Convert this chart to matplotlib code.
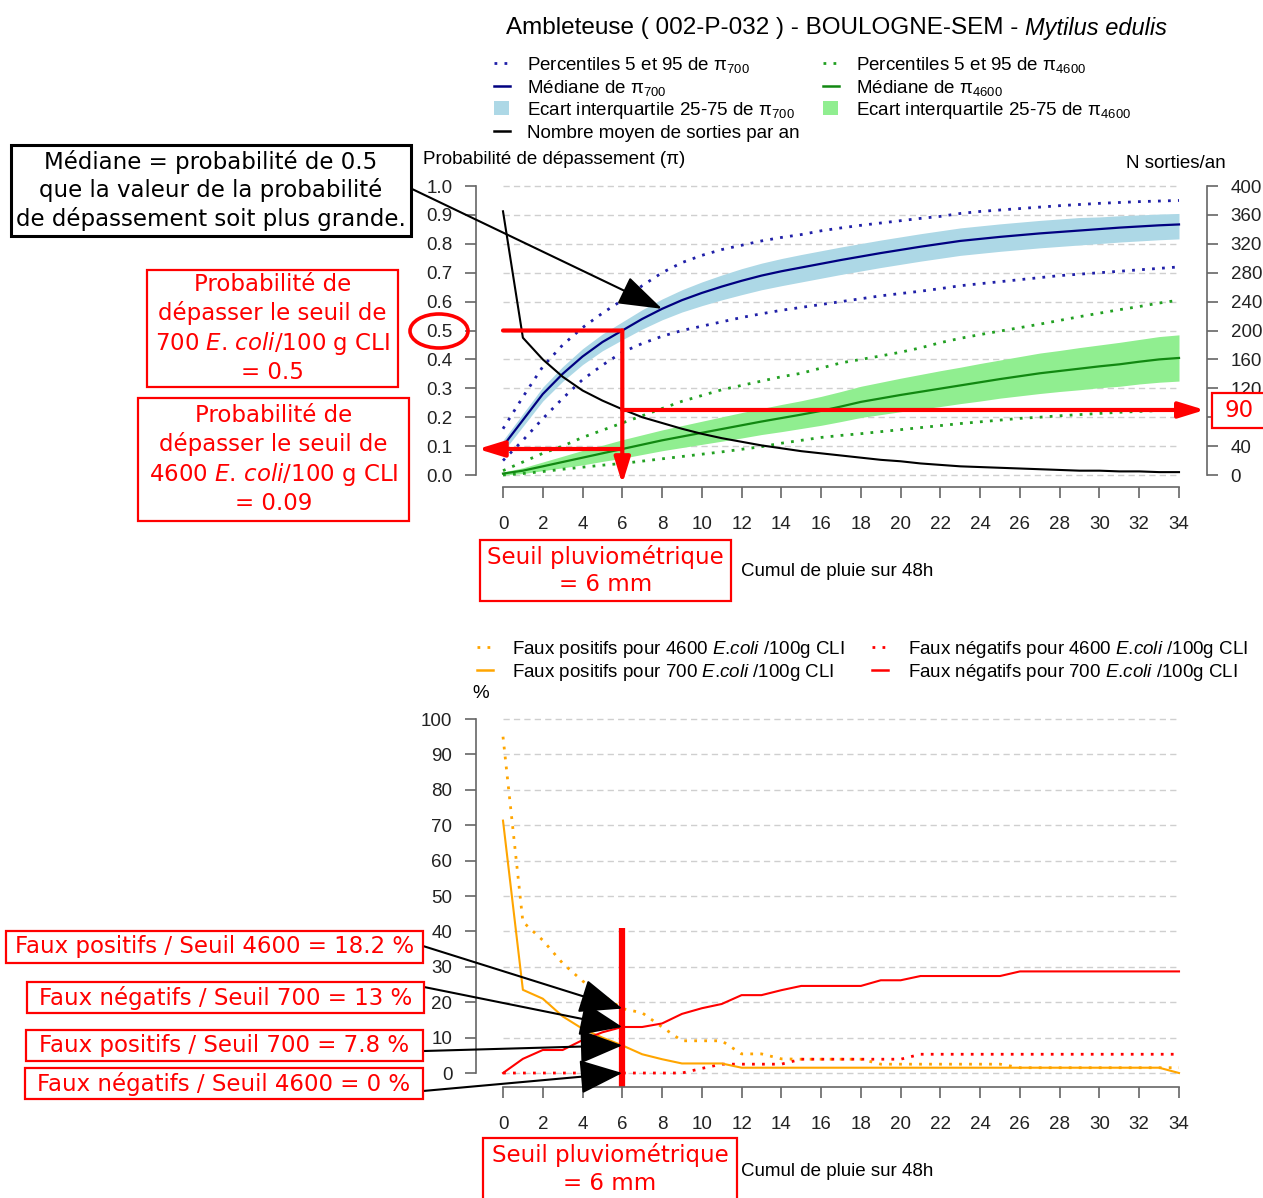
import matplotlib
matplotlib.use("Agg")
import matplotlib.pyplot as plt
from matplotlib.patches import Rectangle, Ellipse
from matplotlib.lines import Line2D
import numpy as np

plt.rcParams['font.family'] = ['Liberation Sans', 'DejaVu Sans']
plt.rcParams['mathtext.fontset'] = 'custom'
plt.rcParams['mathtext.rm'] = 'Liberation Sans'
plt.rcParams['mathtext.it'] = 'Liberation Sans:italic'

W, H = 1263, 1198

# cumul de pluie sur 48h (mm)
pluie = list(range(35))

# probabilite de depassement, seuil 700
p05_700 = [0.05, 0.12, 0.195, 0.265, 0.33, 0.38, 0.425, 0.455, 0.48, 0.50, 0.515, 0.53, 0.545, 0.558,
           0.57, 0.58, 0.59, 0.60, 0.61, 0.62, 0.628, 0.636, 0.645, 0.655, 0.662, 0.669, 0.676, 0.683,
           0.69, 0.695, 0.70, 0.705, 0.71, 0.715, 0.72]
q25_700 = [0.08, 0.168, 0.256, 0.324, 0.382, 0.43, 0.468, 0.505, 0.537, 0.564, 0.586, 0.606, 0.624, 0.641,
           0.655, 0.668, 0.681, 0.694, 0.706, 0.718, 0.729, 0.74, 0.75, 0.76, 0.767, 0.774, 0.78, 0.786,
           0.791, 0.796, 0.801, 0.806, 0.81, 0.814, 0.817]
med_700 = [0.10, 0.19, 0.28, 0.35, 0.41, 0.46, 0.50, 0.54, 0.575, 0.605, 0.63, 0.652, 0.672, 0.69,
           0.705, 0.718, 0.731, 0.744, 0.756, 0.768, 0.779, 0.79, 0.80, 0.81, 0.817, 0.824, 0.83, 0.836,
           0.841, 0.846, 0.851, 0.856, 0.86, 0.864, 0.867]
q75_700 = [0.12, 0.212, 0.304, 0.375, 0.437, 0.488, 0.53, 0.572, 0.609, 0.641, 0.668, 0.692, 0.714, 0.733,
           0.749, 0.763, 0.776, 0.789, 0.801, 0.813, 0.824, 0.835, 0.845, 0.855, 0.862, 0.869, 0.875, 0.881,
           0.886, 0.891, 0.893, 0.897, 0.90, 0.903, 0.905]
p95_700 = [0.16, 0.27, 0.375, 0.45, 0.51, 0.56, 0.605, 0.655, 0.70, 0.735, 0.76, 0.78, 0.795, 0.81,
           0.822, 0.832, 0.845, 0.855, 0.864, 0.872, 0.88, 0.888, 0.895, 0.905, 0.912, 0.917, 0.922, 0.927,
           0.932, 0.936, 0.94, 0.943, 0.946, 0.948, 0.95]

# probabilite de depassement, seuil 4600
p05_4600 = [0.0, 0.005, 0.012, 0.02, 0.027, 0.034, 0.04, 0.048, 0.056, 0.064, 0.072, 0.08, 0.089, 0.098,
            0.11, 0.12, 0.13, 0.137, 0.143, 0.15, 0.157, 0.164, 0.171, 0.178, 0.184, 0.19, 0.196, 0.2,
            0.205, 0.209, 0.213, 0.217, 0.22, 0.223, 0.225]
q25_4600 = [0.0, 0.005, 0.015, 0.025, 0.035, 0.047, 0.058, 0.071, 0.084, 0.095, 0.106, 0.117, 0.128, 0.14,
            0.15, 0.161, 0.172, 0.185, 0.199, 0.209, 0.219, 0.228, 0.237, 0.247, 0.256, 0.266, 0.274, 0.282,
            0.289, 0.295, 0.302, 0.307, 0.315, 0.321, 0.325]
med_4600 = [0.005, 0.015, 0.03, 0.045, 0.06, 0.075, 0.09, 0.105, 0.12, 0.133, 0.146, 0.159, 0.172, 0.185,
            0.197, 0.209, 0.222, 0.237, 0.253, 0.265, 0.277, 0.288, 0.299, 0.31, 0.321, 0.332, 0.342, 0.352,
            0.36, 0.368, 0.376, 0.383, 0.392, 0.40, 0.405]
q75_4600 = [0.01, 0.025, 0.045, 0.065, 0.085, 0.103, 0.122, 0.139, 0.156, 0.171, 0.186, 0.201, 0.216, 0.23,
            0.244, 0.257, 0.272, 0.289, 0.307, 0.321, 0.335, 0.348, 0.361, 0.373, 0.386, 0.398, 0.41, 0.422,
            0.431, 0.441, 0.45, 0.459, 0.469, 0.479, 0.485]
p95_4600 = [0.015, 0.045, 0.075, 0.10, 0.13, 0.155, 0.18, 0.205, 0.23, 0.255, 0.275, 0.295, 0.31, 0.325,
            0.34, 0.352, 0.37, 0.388, 0.40, 0.412, 0.425, 0.44, 0.458, 0.473, 0.486, 0.498, 0.51, 0.522,
            0.535, 0.548, 0.56, 0.572, 0.583, 0.595, 0.605]

# nombre moyen de sorties par an
sorties = [365, 190, 160, 136, 117, 103, 91, 80, 72, 64, 57, 51, 46, 41, 37, 33, 30, 27, 24, 21, 19, 16,
           14, 12, 11, 10, 9, 8, 7, 6, 6, 5, 5, 4, 4]

# faux positifs / faux negatifs (%)
fp_4600 = [95, 42.7, 37.5, 31, 26, 22, 18.2, 17, 13, 9.1, 9.1, 9.1, 5.4, 5.4, 4, 3.9, 3.9, 3.9, 3.9,
           2.5, 2.5, 2.5, 2.5, 2.5, 2.5, 2.5, 1.5, 1.5, 1.5, 1.5, 1.5, 1.5, 1.5, 1.5, 1.5]
fp_700 = [71.3, 23.5, 21, 16, 12.5, 10, 7.8, 5.3, 3.9, 2.7, 2.7, 2.7, 1.5, 1.5, 1.5, 1.5, 1.5, 1.5, 1.5,
          1.5, 1.5, 1.5, 1.5, 1.5, 1.5, 1.5, 1.5, 1.5, 1.5, 1.5, 1.5, 1.5, 1.5, 1.5, 0]
fn_4600 = [0, 0, 0, 0, 0, 0, 0, 0, 0, 0, 1.3, 2.5, 2.5, 2.5, 2.5, 3.9, 3.9, 3.9, 3.9, 3.9, 3.9, 5.3, 5.3,
           5.3, 5.3, 5.3, 5.3, 5.3, 5.3, 5.3, 5.3, 5.3, 5.3, 5.3, 5.3]
fn_700 = [0, 4, 6.5, 6.5, 9.3, 11.5, 13, 13, 14, 16.7, 18.3, 19.5, 22, 22, 23.4, 24.6, 24.6, 24.6, 24.6,
          26.2, 26.2, 27.4, 27.4, 27.4, 27.4, 27.4, 28.7, 28.7, 28.7, 28.7, 28.7, 28.7, 28.7, 28.7, 28.7]

seuil = 6
x_ticks = list(range(0, 35, 2))


def fx(X):
    return X / W


def fy(Y):
    return 1 - Y / H


fig = plt.figure(figsize=(W / 100, H / 100), dpi=100)

gris = '#666666'
dots = (0, (1, 2.6))
grid_style = (0, (4.5, 3))


def style_axe(ax, ybounds):
    for s in ['top', 'right']:
        ax.spines[s].set_visible(False)
    ax.spines['left'].set_bounds(*ybounds)
    ax.spines['bottom'].set_bounds(0, 34)
    for s in ['left', 'bottom']:
        ax.spines[s].set_color(gris)
        ax.spines[s].set_linewidth(1.2)
    ax.tick_params(length=8, width=1.2, color=gris, pad=9, labelsize=13.5, labelcolor='#222222')
    ax.tick_params(axis='x', pad=13)
    ax.set_xticks(x_ticks)
    ax.set_xlim(-1.358, 35.408)


# ---------- panneau du haut ----------
ax1 = fig.add_axes([fx(476), fy(487), (1207 - 476) / W, (487 - 180) / H])
ax1.set_ylim(-0.0415, 1.0208)
style_axe(ax1, (0, 1))
yt = np.round(np.arange(0, 1.01, 0.1), 1)
ax1.set_yticks(yt)
ax1.set_yticklabels(['%.1f' % v for v in yt])
ax1.hlines(yt, 0, 34, colors='#cfcfcf', linestyles=grid_style, lw=1, zorder=0)

ax1.fill_between(pluie, q25_700, q75_700, color='lightblue', lw=0)
ax1.fill_between(pluie, q25_4600, q75_4600, color='lightgreen', lw=0)
ax1.plot(pluie, p05_700, color='#2020a8', lw=2, ls=dots)
ax1.plot(pluie, p95_700, color='#2020a8', lw=2, ls=dots)
ax1.plot(pluie, med_700, color='navy', lw=1.6)
ax1.plot(pluie, p05_4600, color='#22a022', lw=2, ls=dots)
ax1.plot(pluie, p95_4600, color='#22a022', lw=2, ls=dots)
ax1.plot(pluie, med_4600, color='#118811', lw=1.6)

ax2 = ax1.twinx()
ax2.set_ylim(-0.0415 * 400, 1.0208 * 400)
for s in ['top', 'left', 'bottom']:
    ax2.spines[s].set_visible(False)
ax2.spines['right'].set_bounds(0, 400)
ax2.spines['right'].set_color(gris)
ax2.spines['right'].set_linewidth(1.2)
ax2.set_yticks(range(0, 401, 40))
ax2.tick_params(length=8, width=1.2, color=gris, pad=9, labelsize=13.5, labelcolor='#222222')
ax2.plot(pluie, sorties, color='black', lw=1.5)

# lecture au seuil de 6 mm
i6 = pluie.index(seuil)
rouge = dict(color='red', lw=3, shrinkA=0, shrinkB=0)
tete = '-|>,head_length=1.3,head_width=0.4'
ax2.annotate('', xy=(seuil, med_700[i6]), xycoords=ax1.transData,
             xytext=(0, med_700[i6]), textcoords=ax1.transData,
             arrowprops=dict(arrowstyle='-', **rouge))
ax2.annotate('', xy=(seuil, -0.031), xycoords=ax1.transData,
             xytext=(seuil, med_700[i6]), textcoords=ax1.transData, annotation_clip=False,
             arrowprops=dict(arrowstyle=tete, mutation_scale=12, **rouge))
ax2.annotate('', xy=(-1.26, med_4600[i6]), xycoords=ax1.transData,
             xytext=(seuil, med_4600[i6]), textcoords=ax1.transData, annotation_clip=False,
             arrowprops=dict(arrowstyle=tete, mutation_scale=12, **rouge))
ax2.annotate('', xy=(35.3, 90), xytext=(seuil, 90), annotation_clip=False,
             arrowprops=dict(arrowstyle=tete, mutation_scale=12, **rouge))

# fleche "Mediane"
ax2.annotate('', xy=(8, med_700[8]), xycoords=ax1.transData,
             xytext=(fx(410), fy(188)), textcoords='figure fraction', annotation_clip=False,
             arrowprops=dict(arrowstyle='-|>,head_length=1.25,head_width=0.42', mutation_scale=22,
                             color='black', lw=1.5, shrinkA=0, shrinkB=0))

# ---------- panneau du bas ----------
ax3 = fig.add_axes([fx(476), fy(1087), (1207 - 476) / W, (1087 - 712) / H])
ax3.set_ylim(-3.95, 101.98)
style_axe(ax3, (0, 100))
yt3 = list(range(0, 101, 10))
ax3.set_yticks(yt3)
ax3.hlines(yt3, 0, 34, colors='#cfcfcf', linestyles=grid_style, lw=1, zorder=0)

ax3.plot(pluie, fp_4600, color='orange', lw=2, ls=dots)
ax3.plot(pluie, fn_4600, color='red', lw=2, ls=dots)
ax3.plot(pluie, fp_700, color='orange', lw=1.5)
ax3.plot(pluie, fn_700, color='red', lw=1.5)
ax3.plot([seuil, seuil], [-3.95, 41], color='red', lw=4.5, solid_capstyle='butt', clip_on=False)

fleche = dict(arrowstyle='-|>,head_length=1.0,head_width=0.4', mutation_scale=27,
              color='black', lw=1.5, shrinkA=0, shrinkB=0)
for (X, Y), val in zip([(423, 946), (424, 987), (424, 1051), (423, 1091)],
                       [fp_4600[i6], fn_700[i6], fp_700[i6], fn_4600[i6]]):
    ax3.annotate('', xy=(seuil, val), xytext=(fx(X), fy(Y)), textcoords='figure fraction',
                 annotation_clip=False, arrowprops=fleche)

# ---------- textes ----------
fig.text(fx(1018), fy(28), 'Ambleteuse ( 002-P-032 ) - BOULOGNE-SEM -', ha='right', va='center',
         fontsize=17.5)
fig.text(fx(1025), fy(28), 'Mytilus edulis', ha='left', va='center', fontsize=17, style='italic')
fig.text(fx(423), fy(160), 'Probabilité de dépassement (π)', ha='left', va='center', fontsize=13.5)
fig.text(fx(1226), fy(164), 'N sorties/an', ha='right', va='center', fontsize=13.5)
fig.text(fx(481), fy(693), '%', ha='center', va='center', fontsize=13.5)
fig.text(fx(741), fy(571), 'Cumul de pluie sur 48h', ha='left', va='center', fontsize=13.5)
fig.text(fx(741), fy(1171), 'Cumul de pluie sur 48h', ha='left', va='center', fontsize=13.5)


def cle(X, Y, color, kind):
    if kind == 'carre':
        fig.add_artist(Rectangle((fx(X), fy(Y + 7)), 15 / W, 14 / H, transform=fig.transFigure,
                                 fc=color, ec='none'))
    else:
        fig.add_artist(Line2D([fx(X), fx(X + 16)], [fy(Y), fy(Y)], transform=fig.transFigure,
                              color=color, lw=2 if kind == 'dots' else 1.8,
                              ls=dots if kind == 'dots' else '-'))


legende_haut = [
    (494, 527, 63, '#2020a8', 'dots', 'Percentiles 5 et 95 de π$_{700}$'),
    (494, 527, 85.5, 'navy', 'ligne', 'Médiane de π$_{700}$'),
    (494, 527, 108, 'lightblue', 'carre', 'Ecart interquartile 25-75 de π$_{700}$'),
    (494, 527, 130.5, 'black', 'ligne', 'Nombre moyen de sorties par an'),
    (823, 856, 63, '#22a022', 'dots', 'Percentiles 5 et 95 de π$_{4600}$'),
    (823, 856, 85.5, '#118811', 'ligne', 'Médiane de π$_{4600}$'),
    (823, 856, 108, 'lightgreen', 'carre', 'Ecart interquartile 25-75 de π$_{4600}$'),
]
legende_bas = [
    (477, 512, 647, 'orange', 'dots', r'Faux positifs pour 4600 $\mathit{E}$.$\mathit{coli}$ /100g CLI'),
    (477, 512, 670, 'orange', 'ligne', r'Faux positifs pour 700 $\mathit{E}$.$\mathit{coli}$ /100g CLI'),
    (872, 908, 647, 'red', 'dots', r'Faux négatifs pour 4600 $\mathit{E}$.$\mathit{coli}$ /100g CLI'),
    (872, 908, 670, 'red', 'ligne', r'Faux négatifs pour 700 $\mathit{E}$.$\mathit{coli}$ /100g CLI'),
]
for Xh, Xt, Y, c, kind, lab in legende_haut + legende_bas:
    cle(Xh, Y, c, kind)
    fig.text(fx(Xt), fy(Y + 7), lab, ha='left', va='baseline', fontsize=13.5)


def boite(x0, y0, x1, y1, texte, couleur, lw=1.6):
    fig.add_artist(Rectangle((fx(x0), fy(y1)), (x1 - x0) / W, (y1 - y0) / H, transform=fig.transFigure,
                             fc='white', ec=couleur, lw=lw, zorder=2))
    fig.text(fx((x0 + x1) / 2), fy((y0 + y1) / 2), texte, color=couleur, ha='center', va='center',
             multialignment='center', family='DejaVu Sans', fontsize=16.5, math_fontfamily='dejavusans',
             linespacing=1.25, zorder=3)


boite(11, 145, 411, 236, 'Médiane = probabilité de 0.5\nque la valeur de la probabilité\n'
      'de dépassement soit plus grande.', 'black', lw=2.2)
boite(147, 270, 398, 387, 'Probabilité de\ndépasser le seuil de\n'
      '700 $\\mathit{E}$. $\\mathit{coli}$/100 g CLI\n= 0.5', 'red')
boite(138, 398, 409, 521, 'Probabilité de\ndépasser le seuil de\n'
      '4600 $\\mathit{E}$. $\\mathit{coli}$/100 g CLI\n= 0.09', 'red')
boite(480, 540, 731, 601, 'Seuil pluviométrique\n= 6 mm', 'red')
boite(483, 1138, 737, 1200, 'Seuil pluviométrique\n= 6 mm', 'red')
boite(1212, 393, 1266, 428, '90', 'red')
boite(6, 931, 423, 963, 'Faux positifs / Seuil 4600 = 18.2 %', 'red')
boite(27, 982, 424, 1013, 'Faux négatifs / Seuil 700 = 13 %', 'red')
boite(26, 1030, 423, 1061, 'Faux positifs / Seuil 700 = 7.8 %', 'red')
boite(25, 1068, 423, 1099, 'Faux négatifs / Seuil 4600 = 0 %', 'red')

fig.add_artist(Ellipse((fx(439), fy(331)), 58 / W, 34 / H, transform=fig.transFigure,
                       fill=False, ec='red', lw=2.6))

fig.savefig('out.png', dpi=100)
